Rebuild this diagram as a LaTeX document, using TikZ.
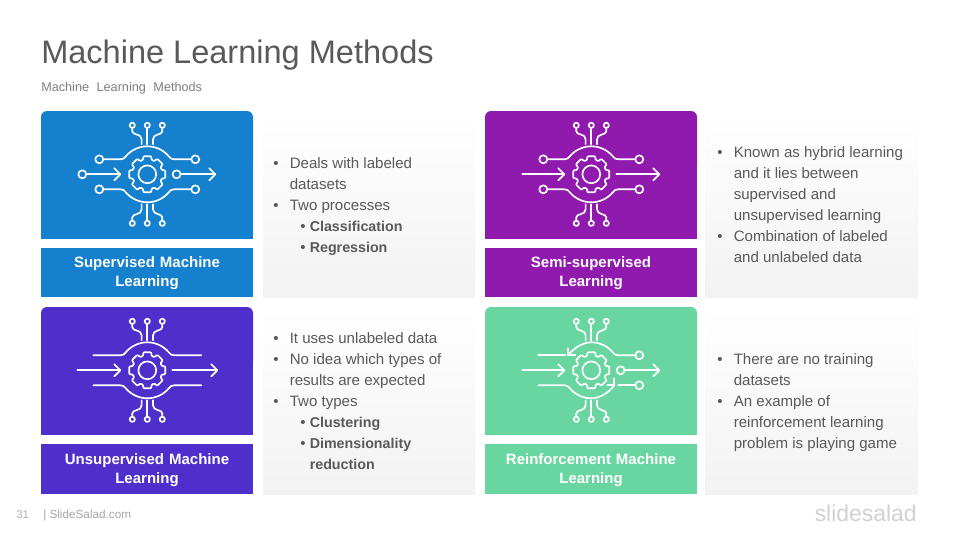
\documentclass[tikz,border=0pt]{standalone}
\usepackage{fontspec}
\setmainfont{Liberation Sans}
\definecolor{cblue}{HTML}{1580CE}
\definecolor{cpurple}{HTML}{9019AE}
\definecolor{cindigo}{HTML}{4F2FCB}
\definecolor{cgreen}{HTML}{69D6A2}
\definecolor{txt}{HTML}{595959}
\definecolor{sub}{HTML}{7F7F7F}
\newlength{\pxu}\setlength{\pxu}{0.75pt}
\tikzset{
  x=0.75pt,y=-0.75pt,
  wire/.style={draw=white,line width=1.25pt,line cap=round,line join=round},
  cardlabel/.style={anchor=center,text=white,font=\fontsize{11.25}{14.25}\selectfont\bfseries,align=center,text width=150pt,inner sep=0pt},
  bodytext/.style={anchor=west,text=txt,font=\fontsize{11.3}{15.75}\selectfont,align=left,inner sep=0pt},
  panel/.style={top color=white,bottom color=black!5},
}
\newcommand{\bl}{\makebox[16.5\pxu][l]{•}}
\newcommand{\bi}{\hspace*{16.5\pxu}}
\newcommand{\sbl}{\hspace*{27\pxu}\makebox[9.5\pxu][l]{•}\fontsize{10.7}{15.75}\selectfont\bfseries}
\newcommand{\sbi}{\hspace*{36.5\pxu}\fontsize{10.7}{15.75}\selectfont\bfseries}
\newcommand{\cardbg}[3]{% colour, left x, top y
  \fill[#1,rounded corners=4.5pt] (#2,#3) rectangle ++(212,60);
  \fill[#1] (#2,#3+10) rectangle ++(212,118);
}
\newcommand{\iconcore}{%
  \draw[wire] (0,0) circle (8.9);
  \draw[wire,rounded corners=0.6pt] (-17:15)
    \foreach \a in {0,45,...,315}{
      -- (\a-17:15) -- (\a-12:18.4) -- (\a+12:18.4) -- (\a+17:15)
    } -- cycle;
  \foreach \s in {-1,1}{
    \draw[wire] (0,\s*30) -- (0,\s*46.5);
    \draw[wire] (0,\s*49) circle (2.6);
    \foreach \t in {-1,1}{
      \draw[wire] (\t*5.7,\s*30) -- (\t*5.7,\s*35) .. controls (\t*5.7,\s*41) and (\t*15,\s*39) .. (\t*15,\s*43) -- (\t*15,\s*46.4);
      \draw[wire] (\t*15,\s*49) circle (2.6);
    }
  }
}
% one half of the ring, from the horizontal lead at (#1,15*#2) over the top
\newcommand{\ringhalf}[2]{%
  (#1*27,#2*15) .. controls (#1*24,#2*15) and (#1*23,#2*16) .. (#1*21.5,#2*18) .. controls (#1*16,#2*24.5) and (#1*8,#2*28) .. (0,#2*28)}
\newcommand{\fullarc}[1]{%
  \foreach \s in {-1,1}\foreach \t in {-1,1}{
    \draw[wire] (\t*#1,\s*15) -- \ringhalf{\t}{\s};
  }
}
\newcommand{\arrowL}[1]{\draw[wire] (#1,0) -- (-27,0); \draw[wire] (-33,-6) -- (-27,0) -- (-33,6);}
\newcommand{\arrowR}[2]{\draw[wire] (#1,0) -- (#2,0); \draw[wire] (#2-6,-6) -- (#2,0) -- (#2-6,6);}
\newcommand{\term}[2]{\draw[wire] (#1,#2) circle (4);}
\begin{document}
\begin{tikzpicture}
\useasboundingbox (0,0) rectangle (960,540);
\fill[white] (0,0) rectangle (960,540);
% title
\node[anchor=base west,inner sep=0pt,text=txt,font=\fontsize{24.4}{28}\selectfont] (title) at (41,63) {Machine Learning Methods};
\node[anchor=base west,inner sep=0pt,text=sub,font=\fontsize{9.5}{11}\selectfont] (subtitle) at (41,91) {Machine\hspace{3pt} Learning\hspace{3pt} Methods};
% panels
\shade[panel] (263,111) rectangle (475,297);
\shade[panel] (705,111) rectangle (918,297);
\shade[panel] (263,307) rectangle (475,494);
\shade[panel] (705,307) rectangle (918,494);
% cards
\cardbg{cblue}{41}{111}
\cardbg{cpurple}{485}{111}
\cardbg{cindigo}{41}{307}
\cardbg{cgreen}{485}{307}
% label bars
\fill[cblue] (41,248) rectangle (253,297);
\fill[cpurple] (485,248) rectangle (697,297);
\fill[cindigo] (41,444) rectangle (253,494);
\fill[cgreen] (485,444) rectangle (697,494);
\node[cardlabel] (l1) at (147,273.5) {Supervised Machine\\Learning};
\node[cardlabel] (l2) at (591,273.5) {Semi-supervised\\Learning};
\node[cardlabel] (l3) at (147,470.5) {Unsupervised Machine\\Learning};
\node[cardlabel] (l4) at (591,470.5) {Reinforcement Machine\\Learning};
% icon 1
\begin{scope}[shift={(147.3,174.3)}]
  \iconcore \fullarc{44}
  \foreach \s in {-1,1}\foreach \t in {-1,1}{\term{\t*48}{\s*15}}
  \term{-65}{0} \arrowL{-61} \term{29.3}{0} \arrowR{33.3}{68}
\end{scope}
% icon 2
\begin{scope}[shift={(591.3,174.3)}]
  \iconcore \fullarc{44}
  \foreach \s in {-1,1}\foreach \t in {-1,1}{\term{\t*48}{\s*15}}
  \arrowL{-69} \arrowR{25}{68}
\end{scope}
% icon 3
\begin{scope}[shift={(147.3,370.3)}]
  \iconcore \fullarc{54}
  \arrowL{-70} \arrowR{25}{70}
\end{scope}
% icon 4
\begin{scope}[shift={(591.3,370.3)}]
  \iconcore
  \draw[wire] (44,-15) -- \ringhalf{1}{-1};
  \draw[wire] (-23,-15) .. controls (-17,-23) and (-8,-28) .. (0,-28);
  \draw[wire] (-23,-22) -- (-23,-15) -- (-16,-15);
  \draw[wire] (-53,-15) -- (-26,-15);
  \draw[wire] (-53,15) -- \ringhalf{-1}{1};
  \draw[wire] (23,15) .. controls (17,23) and (8,28) .. (0,28);
  \draw[wire] (16,15) -- (23,15) -- (23,8);
  \draw[wire] (27,15) -- (44,15);
  \term{48}{-15} \term{48}{15}
  \arrowL{-69} \term{29.3}{0} \arrowR{33.3}{68}
\end{scope}
% body text
\node[bodytext] (t1) at (273,207) {\bl Deals with labeled\\\bi datasets\\\bl Two processes\\\sbl Classification\\\sbl Regression};
\node[bodytext] (t2) at (717,204.5) {\bl Known as hybrid learning\\\bi and it lies between\\\bi supervised and\\\bi unsupervised learning\\\bl Combination of labeled\\\bi and unlabeled data};
\node[bodytext] (t3) at (273,401) {\bl It uses unlabeled data\\\bl No idea which types of\\\bi results are expected\\\bl Two types\\\sbl Clustering\\\sbl Dimensionality\\\sbi reduction};
\node[bodytext] (t4) at (717,403) {\bl There are no training\\\bi datasets\\\bl An example of\\\bi reinforcement learning\\\bi problem is playing game};
% footer
\node[anchor=base west,inner sep=0pt,text=black!30,font=\fontsize{8.5}{10}\selectfont] (page) at (16,518) {31};
\node[anchor=base west,inner sep=0pt,text=black!35,font=\fontsize{8.8}{10}\selectfont] (site) at (43,518) {| SlideSalad.com};
\node[anchor=base east,inner sep=0pt,text=black!18,font=\fontsize{17.2}{20}\selectfont] (logo) at (917,521) {slidesalad};
\end{tikzpicture}
\end{document}
